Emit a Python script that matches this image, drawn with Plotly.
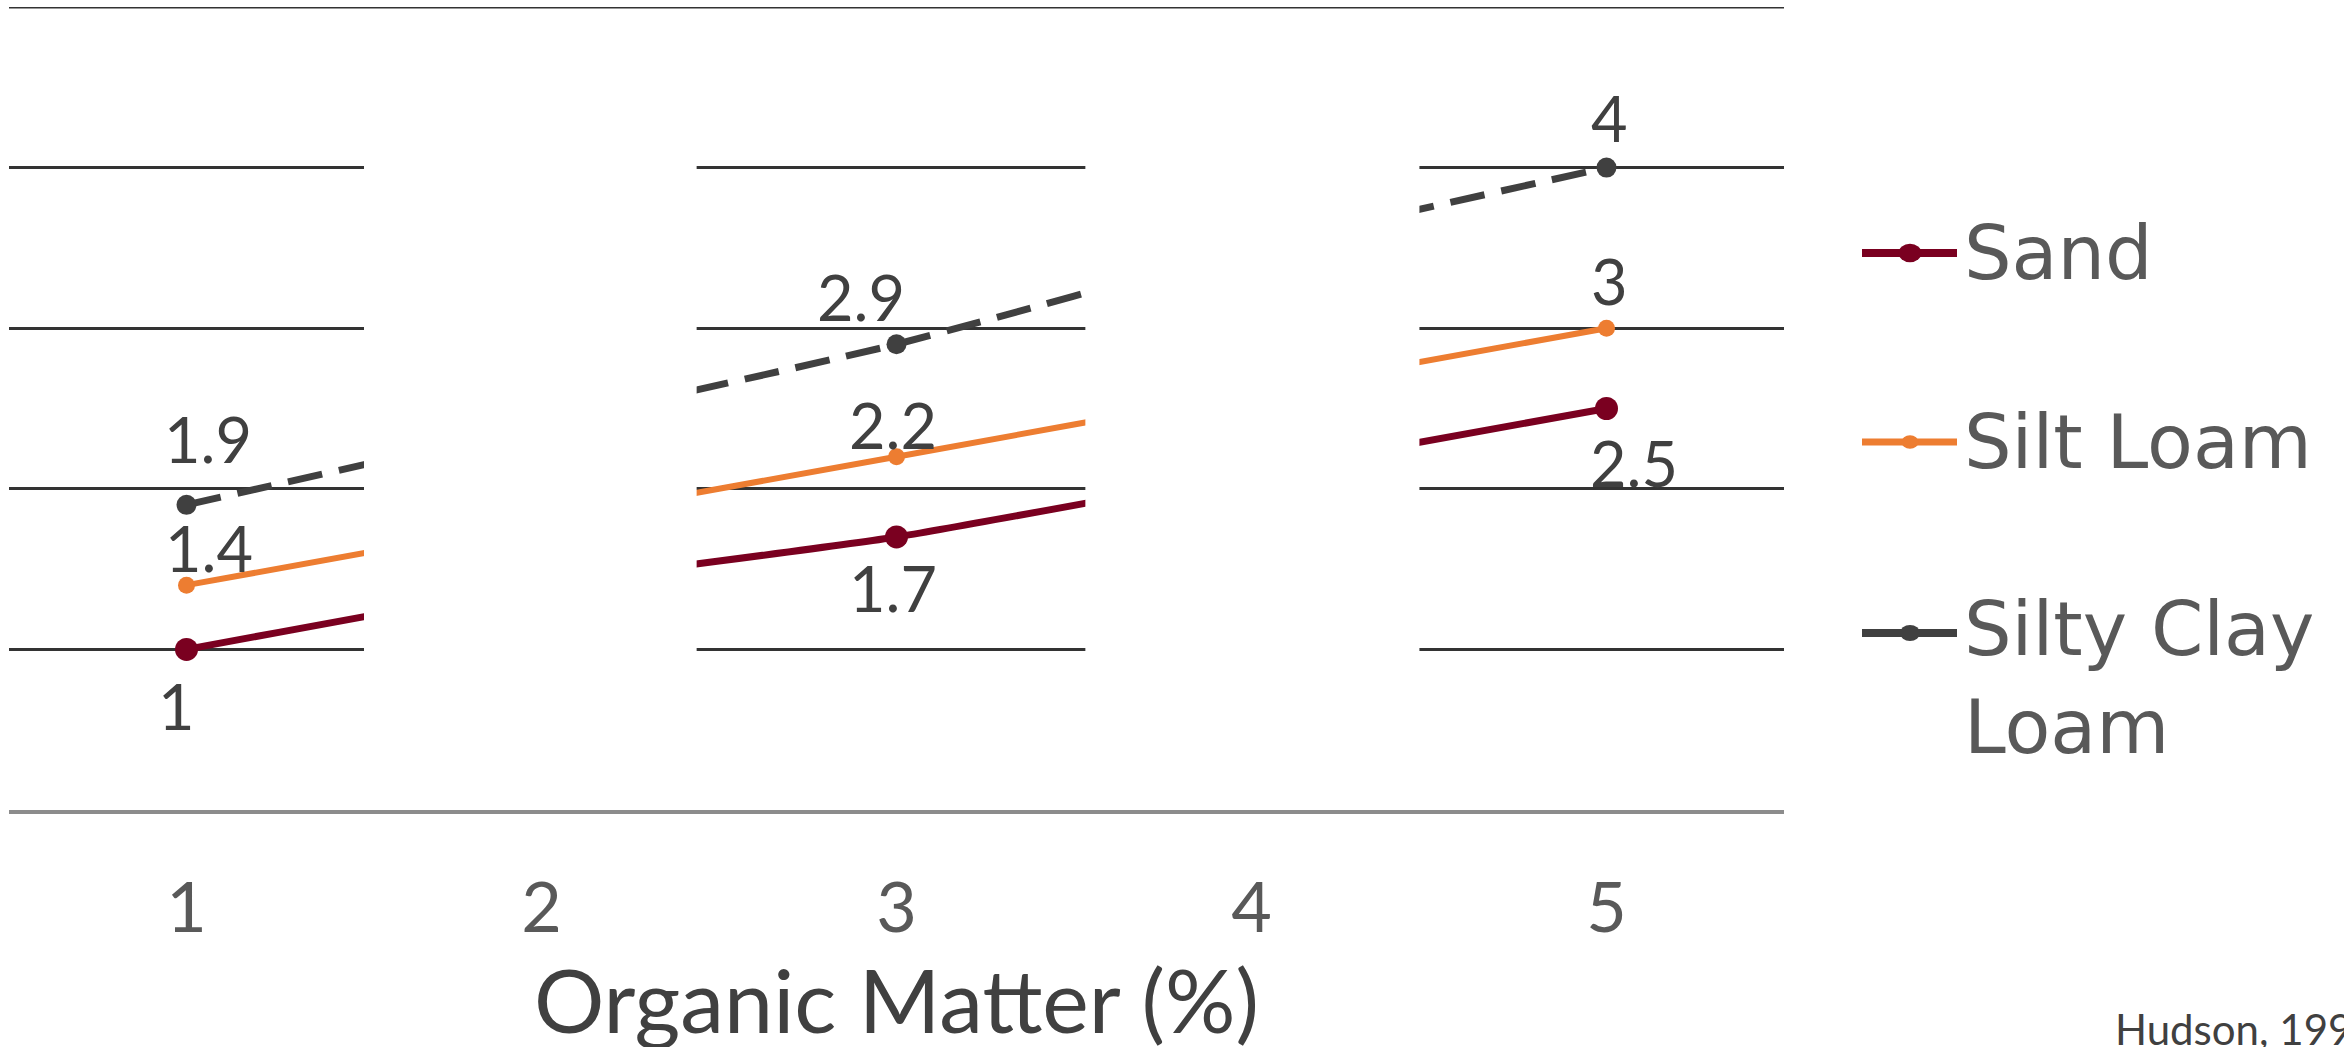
import plotly.graph_objects as go

# Available water vs. organic matter, by soil texture
organic_matter = [1, 2, 3, 4, 5]
sand = [1.0, 1.4, 1.7, 2.1, 2.5]
silt_loam = [1.4, 1.8, 2.2, 2.6, 3.0]
silty_clay_loam = [1.9, 2.4, 2.9, 3.5, 4.0]
series_names = ["Sand", "Silt Loam", "Silty Clay<br>Loam"]
labelled_points = [0, 2, 4]
source_note = "Hudson, 1994"
x_title = "Organic Matter (%)"
y_max = 5

# styling
colors = ["#7a0020", "#ed7d31", "#404040"]
line_widths = [7, 6, 7]
marker_sizes = [23, 17, 20]
dashes = ["solid", "solid", "35px,17px"]
# per-label pixel offsets (xshift, yshift) for the value labels
label_offsets = [
    [(-10, -56), (-4, -51), (27, -54)],
    [(22, 38), (-4, 32), (3, 48)],
    [(21, 66), (-36, 48), (3, 50)],
]

L, R, T, B = 9, 560, 7, 237
W, H = 2344, 1047
PW, PH = W - L - R, H - T - B


def px_x(p):
    return (p - L) / PW


def px_y(p):
    return (H - B - p) / PH


fig = go.Figure()
all_series = [sand, silt_loam, silty_clay_loam]
for i, (vals, name) in enumerate(zip(all_series, series_names)):
    fig.add_trace(go.Scatter(
        x=organic_matter, y=vals, mode="lines+markers", name=name.replace("<br>", " "),
        line=dict(color=colors[i], width=line_widths[i], dash=dashes[i],
                  shape="spline", smoothing=0.5),
        marker=dict(color=colors[i], size=marker_sizes[i]),
        showlegend=False, hoverinfo="x+y+name",
    ))

annotations = []
for i, vals in enumerate(all_series):
    for k, idx in enumerate(labelled_points):
        dx, dy = label_offsets[i][k]
        annotations.append(dict(
            x=organic_matter[idx], y=vals[idx], xref="x", yref="y",
            text=f"{vals[idx]:g}", showarrow=False,
            xshift=dx, yshift=dy, xanchor="center", yanchor="middle",
            font=dict(family="Lato", size=63, color="#404040"),
        ))

# top gridline, which runs across the full width
shapes = [dict(type="line", xref="paper", yref="y", x0=0, x1=1, y0=y_max, y1=y_max,
               line=dict(color="#333333", width=3), layer="below")]

# white panels masking the intermediate organic-matter levels
for x0, x1 in [(1.5, 2.437), (3.532, 4.473)]:
    shapes.append(dict(type="rect", xref="x", yref="y", x0=x0, x1=x1,
                       y0=0.03, y1=4.9, fillcolor="white", line=dict(width=0),
                       layer="above"))

# legend drawn to the right of the plot
legend_y_px = [253, 442, 633]
lx0, lx1, lxm = px_x(1862), px_x(1957), px_x(1910)
for i, name in enumerate(series_names):
    yp = px_y(legend_y_px[i])
    shapes.append(dict(type="line", xref="paper", yref="paper", x0=lx0, x1=lx1,
                       y0=yp, y1=yp, line=dict(color=colors[i], width=line_widths[i] + 1),
                       layer="above"))
    r = marker_sizes[i] / 2
    shapes.append(dict(type="circle", xref="paper", yref="paper",
                       xsizemode="pixel", ysizemode="pixel", xanchor=lxm, yanchor=yp,
                       x0=-r, x1=r, y0=-r * 0.8, y1=r * 0.8,
                       fillcolor=colors[i], line=dict(width=0), layer="above"))
    if "<br>" in name:
        annotations.append(dict(
            x=px_x(1962), y=px_y(legend_y_px[i] - 50), xref="paper", yref="paper",
            text=name, showarrow=False, xanchor="left", yanchor="top", align="left",
            font=dict(family="DejaVu Sans", size=75, color="#595959"),
        ))
    else:
        annotations.append(dict(
            x=px_x(1962), y=yp, xref="paper", yref="paper",
            text=name, showarrow=False, xanchor="left", yanchor="middle",
            font=dict(family="DejaVu Sans", size=75, color="#595959"),
        ))

# x-axis title
annotations.append(dict(
    x=0.5, y=px_y(944), xref="paper", yref="paper", text=x_title,
    showarrow=False, xanchor="center", yanchor="top",
    font=dict(family="Lato", size=88, color="#404040"),
))

annotations.append(dict(
    x=px_x(2113), y=px_y(1002), xref="paper", yref="paper", text=source_note,
    showarrow=False, xanchor="left", yanchor="top",
    font=dict(family="Lato", size=42, color="#404040"),
))

fig.update_layout(
    width=W, height=H,
    margin=dict(l=L, r=R, t=T, b=B, autoexpand=False),
    paper_bgcolor="white", plot_bgcolor="white",
    showlegend=False,
    annotations=annotations, shapes=shapes,
    xaxis=dict(
        range=[0.5, 5.5], tickmode="array", tickvals=organic_matter,
        ticktext=[str(v) for v in organic_matter],
        showgrid=False, zeroline=False, showline=True,
        linecolor="#8c8c8c", linewidth=4, ticks="", ticklabelstandoff=34,
        tickfont=dict(family="Lato", size=70, color="#595959"),
        automargin=False,
    ),
    yaxis=dict(
        range=[0, y_max], tick0=0, dtick=1, showticklabels=False, ticks="",
        showgrid=True, gridcolor="#333333", gridwidth=3,
        zeroline=False, showline=False, automargin=False,
    ),
)

fig.write_html("out.html")
